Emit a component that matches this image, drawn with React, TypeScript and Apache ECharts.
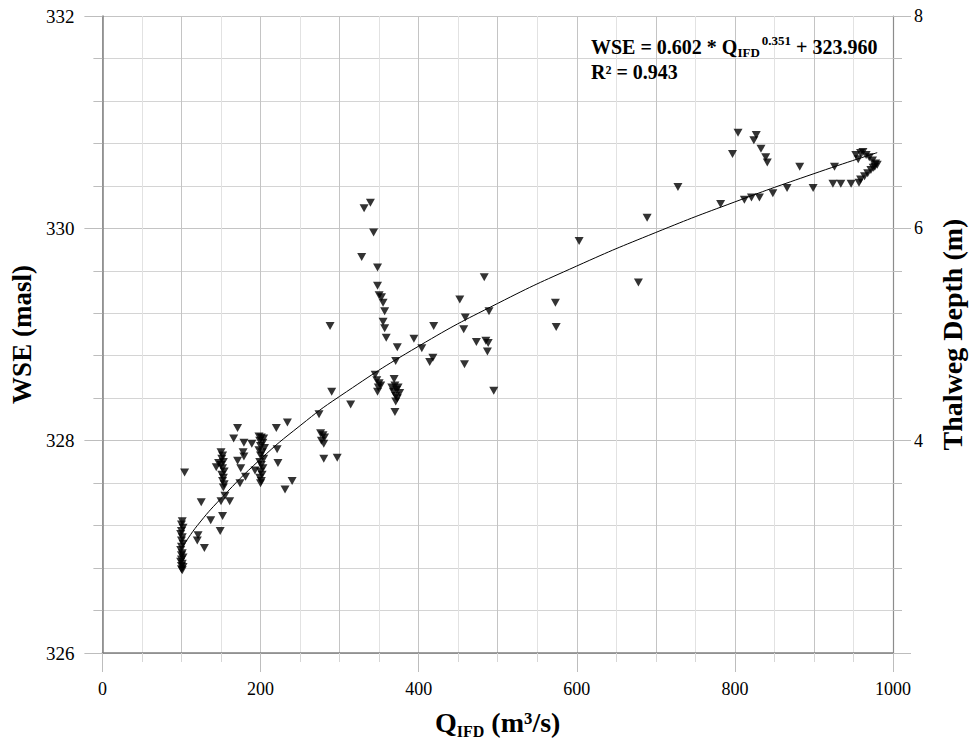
import React, { useEffect, useRef } from "react";
import * as echarts from "echarts";

// Observed discharge Q_IFD (m³/s)
const qValues = [
  101, 100, 102, 100, 99, 101, 100, 102, 100, 99, 101, 100, 102, 100, 99, 101, 100, 102, 100, 101,
  104, 121, 120, 129, 125, 137, 149, 152, 150, 155, 161,
  150, 152, 151, 153, 150, 152, 154, 151, 153, 152, 154, 153, 144, 147,
  174, 181, 171, 175, 178, 179, 166, 171, 179, 189, 193,
  198, 201, 204, 199, 203, 200, 205, 198, 202, 200, 204, 199, 201, 203, 200, 202, 199, 201, 200,
  220, 234, 221, 222, 240, 231,
  274, 276, 279, 281, 277, 280, 280, 297,
  339, 331, 343, 328, 348, 348, 350, 353, 355, 357, 355, 357, 359, 288,
  373, 371, 394, 404, 419, 418, 414, 345, 347, 350, 349, 348, 352,
  369, 366, 368, 370, 372, 374, 376, 371, 373, 371, 370,
  290, 314,
  603, 483, 452, 459, 489, 457, 473, 485, 488, 487, 458, 495, 573, 574,
  689, 678, 728, 782, 797, 804, 812, 821, 831, 827, 824, 833, 839, 841, 848, 866, 882, 899, 926, 924, 934, 947,
  953, 959, 962, 966, 970, 974, 978, 977, 972, 968, 964, 959, 957, 956, 980, 975,
];

// Observed water surface elevation WSE (masl)
const wseValues = [
  327.24, 327.21, 327.18, 327.15, 327.12, 327.09, 327.06, 327.03, 327.0, 326.97, 326.94, 326.92, 326.9, 326.88, 326.86, 326.84, 326.82, 326.81, 326.79, 326.78,
  327.7, 327.11, 327.06, 326.99, 327.42, 327.25, 327.15, 327.29, 327.43, 327.48, 327.43,
  327.89, 327.86, 327.83, 327.8, 327.77, 327.74, 327.71, 327.68, 327.65, 327.62, 327.59, 327.56, 327.75, 327.79,
  327.6, 327.66, 327.81, 327.74, 327.89, 327.85, 328.02, 328.12, 327.98, 327.97, 327.72,
  328.04, 328.03, 328.02, 328.0, 327.98, 327.95, 327.93, 327.91, 327.89, 327.86, 327.83, 327.8, 327.77, 327.74, 327.71, 327.68, 327.65, 327.62, 327.6,
  328.12, 328.17, 327.92, 327.79, 327.62, 327.54,
  328.25, 328.07, 328.05, 328.03, 328.0, 327.97, 327.83, 327.84,
  330.24, 330.19, 329.96, 329.73, 329.63, 329.46, 329.37, 329.35, 329.3, 329.22, 329.12, 329.06, 328.97, 329.08,
  328.88, 328.75, 328.96, 328.87, 329.08, 328.78, 328.74, 328.62, 328.57, 328.54, 328.5, 328.46, 328.52,
  328.58, 328.5, 328.46, 328.52, 328.48, 328.5, 328.45, 328.42, 328.4, 328.37, 328.27,
  328.46, 328.34,
  329.88, 329.54, 329.33, 329.16, 329.22, 329.05, 328.93, 328.94, 328.92, 328.84, 328.72, 328.47, 329.3, 329.07,
  330.1, 329.49, 330.39, 330.23, 330.7, 330.9, 330.27, 330.29, 330.29, 330.88, 330.83, 330.75, 330.67, 330.62, 330.33, 330.38, 330.58, 330.38, 330.58, 330.42, 330.42, 330.42,
  330.69, 330.71, 330.72, 330.69, 330.67, 330.64, 330.61, 330.58, 330.55, 330.52, 330.49, 330.46, 330.43, 330.65, 330.6, 330.57,
];

// Trend line
const fitQ = [105, 120, 150, 200, 250, 300, 400, 500, 600, 700, 800, 900, 980];
const fitWse = [327.04, 327.2, 327.455, 327.826, 328.141, 328.417, 328.89, 329.293, 329.645, 329.961, 330.249, 330.515, 330.713];

const xLabelStep = 200;
const yLabelStep = 2;

const FONT = "'Liberation Serif', 'Times New Roman', serif";

export default function App() {
  const ref = useRef<HTMLDivElement>(null);

  useEffect(() => {
    if (!ref.current) return;
    const chart = echarts.init(ref.current, null, { renderer: "svg" });

    const scatterData = qValues.map((q, i) => [q, wseValues[i]]);
    const fitData = fitQ.map((q, i) => [q, fitWse[i]]);

    const isEven = (v: number) => {
      const r = Math.round(v);
      return Math.abs(v - r) < 1e-6 && r % 2 === 0;
    };

    chart.setOption({
      animation: false,
      backgroundColor: "#ffffff",
      grid: { left: 101, right: 74, top: 16, bottom: 94, containLabel: false },
      xAxis: [
        {
          type: "value",
          min: 0,
          max: 1000,
          interval: xLabelStep,
          position: "bottom",
          name: "{q|Q}{sub|IFD}{q| (m³/s)}",
          nameLocation: "middle",
          nameGap: 52,
          nameTextStyle: {
            rich: {
              q: { fontFamily: FONT, fontSize: 28, fontWeight: "bold", color: "#000", lineHeight: 34, verticalAlign: "middle" },
              sub: { fontFamily: FONT, fontSize: 16, fontWeight: "bold", color: "#000", lineHeight: 16, verticalAlign: "bottom" },
            },
          },
          axisLine: { show: true, onZero: false, lineStyle: { color: "#808080", width: 1.5 } },
          axisTick: { show: true, inside: false, length: 19, lineStyle: { color: "#bdbdbd" } },
          minorTick: { show: true, splitNumber: 4, length: 9, lineStyle: { color: "#d6d6d6" } },
          axisLabel: {
            fontFamily: FONT,
            fontSize: 18,
            color: "#000",
            margin: 27,
            formatter: (v: number) => String(Math.round(v)),
          },
          splitLine: { show: true, lineStyle: { color: "#bdbdbd", width: 1 } },
          minorSplitLine: { show: true, lineStyle: { color: "#e2e2e2", width: 1 } },
        },
        {
          type: "value",
          min: 0,
          max: 1000,
          interval: 100,
          position: "top",
          axisLine: { show: false },
          axisTick: { show: false },
          axisLabel: { show: false },
          splitLine: { show: true, lineStyle: { color: "#c4c4c4", width: 1 } },
        },
      ],
      yAxis: [
        {
          type: "value",
          min: 326,
          max: 332,
          interval: yLabelStep,
          position: "left",
          name: "WSE (masl)",
          nameLocation: "middle",
          nameGap: 56,
          nameTextStyle: { fontFamily: FONT, fontSize: 27, fontWeight: "bold", color: "#000" },
          axisLine: { show: true, onZero: false, lineStyle: { color: "#808080", width: 1.5 } },
          axisTick: { show: true, length: 18, lineStyle: { color: "#bdbdbd" } },
          minorTick: { show: true, splitNumber: 5, length: 9, lineStyle: { color: "#bdbdbd" } },
          axisLabel: { fontFamily: FONT, fontSize: 19, color: "#000", margin: 28 },
          splitLine: { show: true, lineStyle: { color: "#c4c4c4", width: 1 } },
          minorSplitLine: { show: true, lineStyle: { color: "#d4d4d4", width: 1 } },
        },
        {
          type: "value",
          min: 2,
          max: 8,
          interval: 2,
          position: "right",
          name: "Thalweg Depth (m)",
          nameLocation: "middle",
          nameRotate: 90,
          nameGap: 45,
          nameTextStyle: { fontFamily: FONT, fontSize: 28, fontWeight: "bold", color: "#000" },
          axisLine: { show: true, onZero: false, lineStyle: { color: "#8c8c8c", width: 1.2 } },
          axisTick: { show: true, length: 18, lineStyle: { color: "#bdbdbd" } },
          minorTick: { show: true, splitNumber: 5, length: 9, lineStyle: { color: "#bdbdbd" } },
          axisLabel: {
            fontFamily: FONT,
            fontSize: 18,
            color: "#000",
            margin: 21,
            formatter: (v: number) => (isEven(v) && Math.round(v) !== 2 ? String(Math.round(v)) : ""),
          },
          splitLine: { show: false },
        },
      ],
      graphic: [
        {
          type: "text",
          left: 591,
          top: 34,
          z: 100,
          style: {
            text: "{a|WSE = 0.602 * Q}{sub|IFD}{sup|0.351}{a| + 323.960}\n{a|R² = 0.943}",
            rich: {
              a: { fontFamily: FONT, fontSize: 20, fontWeight: "bold", fill: "#000", lineHeight: 25, verticalAlign: "middle" },
              sub: { fontFamily: FONT, fontSize: 13, fontWeight: "bold", fill: "#000", lineHeight: 10, verticalAlign: "bottom" },
              sup: { fontFamily: FONT, fontSize: 13, fontWeight: "bold", fill: "#000", lineHeight: 12, verticalAlign: "top", padding: [0, 0, 0, 2] },
            },
          },
        },
      ],
      series: [
        {
          type: "scatter",
          xAxisIndex: 0,
          yAxisIndex: 0,
          data: scatterData,
          symbol: "triangle",
          symbolRotate: 180,
          symbolSize: [9, 8],
          itemStyle: { color: "#000" },
          z: 3,
        },
        {
          type: "line",
          xAxisIndex: 0,
          yAxisIndex: 0,
          data: fitData,
          smooth: true,
          showSymbol: false,
          symbol: "none",
          lineStyle: { color: "#000", width: 1 },
          z: 4,
        },
      ],
    });

    return () => chart.dispose();
  }, []);

  return (
    <div
      ref={ref}
      style={{ position: "fixed", left: 0, top: 0, width: 974, height: 747, background: "#fff" }}
    />
  );
}
